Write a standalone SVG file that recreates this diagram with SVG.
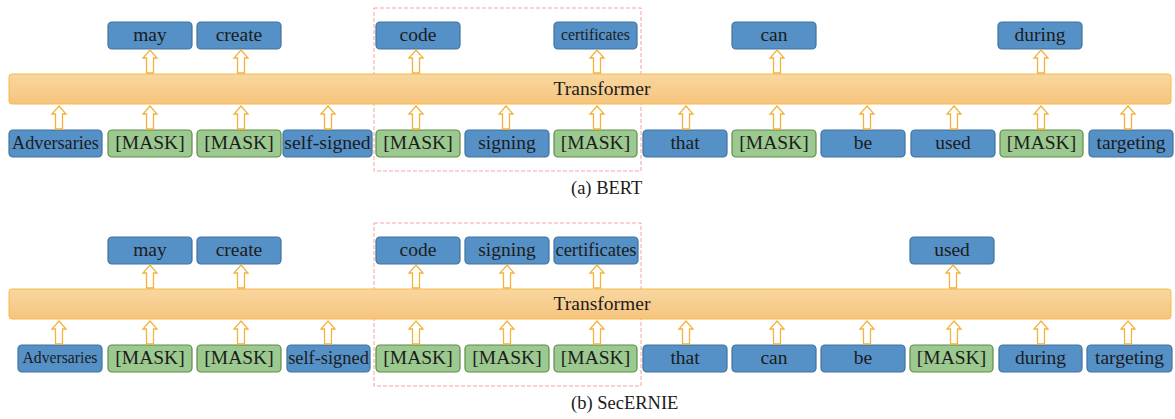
<svg xmlns="http://www.w3.org/2000/svg" width="1175" height="419" viewBox="0 0 1175 419">
<style>
.b{fill:#5591c7;stroke:#42729d;stroke-width:1.2}
.g{fill:#9cc98f;stroke:#5f8b47;stroke-width:1.2}
.bar{fill:url(#bg);stroke:#f6ba4a;stroke-width:1}
.t{font-family:"Liberation Serif","Times New Roman",serif;font-size:19.5px;fill:#1c1c1c;text-anchor:middle}
.cap{font-family:"Liberation Serif","Times New Roman",serif;font-size:18.5px;fill:#1c1c1c}
.dash{fill:none;stroke:#f4a3a3;stroke-width:1;stroke-dasharray:4 2}
.ar{fill:#fff;stroke:#f4b23c;stroke-width:1.3}
</style>
<defs>
<linearGradient id="bg" x1="0" y1="0" x2="0" y2="1">
<stop offset="0" stop-color="#f9d7a0"/>
<stop offset="1" stop-color="#f6c47d"/>
</linearGradient>
<path id="arr" d="M0,0 L7,8 L3.5,8 L3.5,23 L-3.5,23 L-3.5,8 L-7,8 Z"/>
</defs>

<!-- (a) BERT -->
<g id="bert">
<rect class="dash" x="374" y="8" width="267" height="163"/>
<g id="bert-bar"><rect class="bar" x="9" y="74" width="1162" height="30" rx="3"/><text class="t" x="602" y="94.5">Transformer</text></g>
<g id="bert-out-may"><rect class="b" x="108" y="22" width="84" height="27" rx="4"/><text class="t" x="150" y="41">may</text></g>
<g id="bert-out-create"><rect class="b" x="197" y="22" width="84" height="27" rx="4"/><text class="t" x="239" y="41">create</text></g>
<g id="bert-out-code"><rect class="b" x="376" y="22" width="84" height="27" rx="4"/><text class="t" x="418" y="41">code</text></g>
<g id="bert-out-certificates"><rect class="b" x="554" y="22" width="83" height="27" rx="4"/><text class="t" x="595.5" y="39.5" style="font-size:15.7px">certificates</text></g>
<g id="bert-out-can"><rect class="b" x="732" y="22" width="84" height="27" rx="4"/><text class="t" x="774" y="41">can</text></g>
<g id="bert-out-during"><rect class="b" x="998" y="22" width="84" height="27" rx="4"/><text class="t" x="1040" y="41">during</text></g>

<g id="bert-in-1"><rect class="b" x="9" y="130" width="93" height="27" rx="4"/><text class="t" x="55.5" y="148.5" style="font-size:18.2px">Adversaries</text></g>
<g id="bert-in-2"><rect class="g" x="108" y="130" width="84" height="27" rx="4"/><text class="t" x="150" y="148.5">[MASK]</text></g>
<g id="bert-in-3"><rect class="g" x="197" y="130" width="84" height="27" rx="4"/><text class="t" x="239" y="148.5">[MASK]</text></g>
<g id="bert-in-4"><rect class="b" x="283" y="130" width="89" height="27" rx="4"/><text class="t" x="327.5" y="148.5" style="font-size:19.7px">self-signed</text></g>
<g id="bert-in-5"><rect class="g" x="376" y="130" width="84" height="27" rx="4"/><text class="t" x="418" y="148.5">[MASK]</text></g>
<g id="bert-in-6"><rect class="b" x="465" y="130" width="84" height="27" rx="4"/><text class="t" x="507" y="148.5">signing</text></g>
<g id="bert-in-7"><rect class="g" x="554" y="130" width="83" height="27" rx="4"/><text class="t" x="595.5" y="148.5">[MASK]</text></g>
<g id="bert-in-8"><rect class="b" x="643" y="130" width="84" height="27" rx="4"/><text class="t" x="685" y="148.5">that</text></g>
<g id="bert-in-9"><rect class="g" x="732" y="130" width="84" height="27" rx="4"/><text class="t" x="774" y="148.5">[MASK]</text></g>
<g id="bert-in-10"><rect class="b" x="821" y="130" width="84" height="27" rx="4"/><text class="t" x="863" y="148.5">be</text></g>
<g id="bert-in-11"><rect class="b" x="911" y="130" width="84" height="27" rx="4"/><text class="t" x="953" y="148.5">used</text></g>
<g id="bert-in-12"><rect class="g" x="1000" y="130" width="83" height="27" rx="4"/><text class="t" x="1041.5" y="148.5">[MASK]</text></g>
<g id="bert-in-13"><rect class="b" x="1089" y="130" width="84" height="27" rx="4"/><text class="t" x="1131" y="148.5">targeting</text></g>

<g id="bert-arrows" class="ar">
<use href="#arr" x="150" y="50"/><use href="#arr" x="241" y="50"/><use href="#arr" x="416" y="50"/><use href="#arr" x="597" y="50"/><use href="#arr" x="777" y="50"/><use href="#arr" x="1041" y="50"/>
<use href="#arr" x="59" y="106"/><use href="#arr" x="150" y="106"/><use href="#arr" x="241" y="106"/><use href="#arr" x="328" y="106"/><use href="#arr" x="416" y="106"/><use href="#arr" x="506" y="106"/><use href="#arr" x="597" y="106"/><use href="#arr" x="686" y="106"/><use href="#arr" x="777" y="106"/><use href="#arr" x="867" y="106"/><use href="#arr" x="954" y="106"/><use href="#arr" x="1041" y="106"/><use href="#arr" x="1128" y="106"/>
</g>
<text class="cap" x="571" y="194">(a) BERT</text>
</g>

<!-- (b) SecERNIE -->
<g id="secernie">
<rect class="dash" x="374" y="223" width="267" height="163"/>
<g id="sec-bar"><rect class="bar" x="9" y="289" width="1162" height="30" rx="3"/><text class="t" x="602" y="309.5">Transformer</text></g>
<g id="sec-out-may"><rect class="b" x="108" y="237" width="84" height="27" rx="4"/><text class="t" x="150" y="256">may</text></g>
<g id="sec-out-create"><rect class="b" x="197" y="237" width="84" height="27" rx="4"/><text class="t" x="239" y="256">create</text></g>
<g id="sec-out-code"><rect class="b" x="376" y="237" width="84" height="27" rx="4"/><text class="t" x="418" y="256">code</text></g>
<g id="sec-out-signing"><rect class="b" x="465" y="237" width="84" height="27" rx="4"/><text class="t" x="507" y="256">signing</text></g>
<g id="sec-out-certificates"><rect class="b" x="554" y="237" width="84" height="27" rx="4"/><text class="t" x="596" y="256" style="font-size:18.5px">certificates</text></g>
<g id="sec-out-used"><rect class="b" x="910" y="237" width="84" height="27" rx="4"/><text class="t" x="952" y="256">used</text></g>

<g id="sec-in-1"><rect class="b" x="18" y="345" width="84" height="27" rx="4"/><text class="t" x="60" y="363" style="font-size:15.7px">Adversaries</text></g>
<g id="sec-in-2"><rect class="g" x="108" y="345" width="84" height="27" rx="4"/><text class="t" x="150" y="363.5">[MASK]</text></g>
<g id="sec-in-3"><rect class="g" x="197" y="345" width="84" height="27" rx="4"/><text class="t" x="239" y="363.5">[MASK]</text></g>
<g id="sec-in-4"><rect class="b" x="287" y="345" width="83" height="27" rx="4"/><text class="t" x="328.5" y="363.5" style="font-size:18.4px">self-signed</text></g>
<g id="sec-in-5"><rect class="g" x="376" y="345" width="84" height="27" rx="4"/><text class="t" x="418" y="363.5">[MASK]</text></g>
<g id="sec-in-6"><rect class="g" x="465" y="345" width="84" height="27" rx="4"/><text class="t" x="507" y="363.5">[MASK]</text></g>
<g id="sec-in-7"><rect class="g" x="554" y="345" width="83" height="27" rx="4"/><text class="t" x="595.5" y="363.5">[MASK]</text></g>
<g id="sec-in-8"><rect class="b" x="643" y="345" width="84" height="27" rx="4"/><text class="t" x="685" y="363.5">that</text></g>
<g id="sec-in-9"><rect class="b" x="732" y="345" width="84" height="27" rx="4"/><text class="t" x="774" y="363.5">can</text></g>
<g id="sec-in-10"><rect class="b" x="821" y="345" width="84" height="27" rx="4"/><text class="t" x="863" y="363.5">be</text></g>
<g id="sec-in-11"><rect class="g" x="910" y="345" width="83" height="27" rx="4"/><text class="t" x="951.5" y="363.5">[MASK]</text></g>
<g id="sec-in-12"><rect class="b" x="999" y="345" width="83" height="27" rx="4"/><text class="t" x="1040.5" y="363.5">during</text></g>
<g id="sec-in-13"><rect class="b" x="1087" y="345" width="85" height="27" rx="4"/><text class="t" x="1129.5" y="363.5">targeting</text></g>

<g id="sec-arrows" class="ar">
<use href="#arr" x="150" y="265"/><use href="#arr" x="241" y="265"/><use href="#arr" x="416" y="265"/><use href="#arr" x="507" y="265"/><use href="#arr" x="597" y="265"/><use href="#arr" x="953" y="265"/>
<use href="#arr" x="59" y="321"/><use href="#arr" x="150" y="321"/><use href="#arr" x="241" y="321"/><use href="#arr" x="328" y="321"/><use href="#arr" x="416" y="321"/><use href="#arr" x="507" y="321"/><use href="#arr" x="597" y="321"/><use href="#arr" x="686" y="321"/><use href="#arr" x="777" y="321"/><use href="#arr" x="867" y="321"/><use href="#arr" x="954" y="321"/><use href="#arr" x="1041" y="321"/><use href="#arr" x="1128" y="321"/>
</g>
<text class="cap" x="571" y="409">(b) SecERNIE</text>
</g>
</svg>
